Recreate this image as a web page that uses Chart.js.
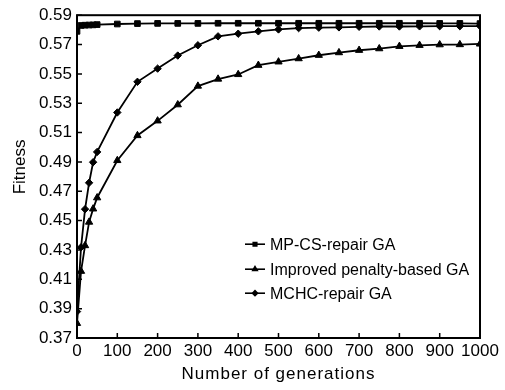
<!DOCTYPE html>
<html>
<head>
<meta charset="utf-8">
<script src="https://cdn.jsdelivr.net/npm/chart.js@4/dist/chart.umd.min.js"></script>
<style>
html,body{margin:0;padding:0;background:#fff;}
#c{display:block;}
</style>
</head>
<body>
<canvas id="c" width="505" height="390"></canvas>
<script>
const generations = [0,10,20,30,40,50,100,150,200,250,300,350,400,450,500,550,600,650,700,750,800,850,900,950,1000];
const mpcsRepair = [0.579,0.5830,0.5832,0.5833,0.5834,0.5836,0.5840,0.5843,0.5844,0.5844,0.5844,0.5845,0.5845,0.5845,0.5845,0.5845,0.5845,0.5845,0.5845,0.5845,0.5845,0.5845,0.5844,0.5844,0.5843];
const improvedPenalty = [0.380,0.4155,0.433,0.449,0.458,0.4656,0.491,0.508,0.518,0.529,0.5417,0.5465,0.5496,0.5559,0.5582,0.5604,0.5627,0.5645,0.5661,0.5672,0.5688,0.5695,0.5699,0.5700,0.5704];
const mchcRepair = [0.388,0.4318,0.4578,0.4758,0.4898,0.4968,0.5237,0.5446,0.5536,0.5625,0.5695,0.5756,0.5774,0.5790,0.5803,0.5812,0.5815,0.5817,0.5821,0.5823,0.5823,0.5824,0.5825,0.5825,0.5826];
const seriesNames = ['MP-CS-repair GA','Improved penalty-based GA','MCHC-repair GA'];
const xTickValues = [0,100,200,300,400,500,600,700,800,900,1000];
const yTickValues = [0.37,0.39,0.41,0.43,0.45,0.47,0.49,0.51,0.53,0.55,0.57,0.59];
const xTitle = 'Number of generations';
const yTitle = 'Fitness';

const FONT = "'Liberation Sans', Arial, sans-serif";
const toPts = arr => arr.map((v,i)=>({x:generations[i], y:v}));

const styles = [
  {pointStyle:'rect', radius:4, legendRadius:2.5},
  {pointStyle:'triangle', radius:4.2, legendRadius:2.6},
  {pointStyle:'rectRot', radius:3.7, legendRadius:2.5}
];
const allSeries = [mpcsRepair, improvedPenalty, mchcRepair];

const datasets = allSeries.map((s,i)=>({
  label: seriesNames[i],
  data: toPts(s),
  borderColor:'#000',
  backgroundColor:'#000',
  borderWidth:1.8,
  pointStyle: styles[i].pointStyle,
  pointRadius: styles[i].radius,
  pointBorderWidth:1,
  pointBackgroundColor:'#000',
  pointBorderColor:'#000',
  tension:0,
  fill:false
}));

const framePlugin = {
  id:'frame',
  afterDraw(chart){
    const {ctx, chartArea:a, scales} = chart;
    ctx.save();
    ctx.strokeStyle='#000';
    // inward ticks
    ctx.lineWidth=1.5;
    ctx.beginPath();
    xTickValues.forEach(v=>{
      const px = scales.x.getPixelForValue(v);
      ctx.moveTo(px, a.bottom); ctx.lineTo(px, a.bottom-5);
    });
    yTickValues.forEach(v=>{
      const py = scales.y.getPixelForValue(v);
      ctx.moveTo(a.left, py); ctx.lineTo(a.left+5, py);
    });
    ctx.stroke();
    // frame
    ctx.lineWidth=2;
    ctx.strokeRect(a.left, a.top, a.right-a.left, a.bottom-a.top);
    // axis titles
    ctx.fillStyle='#000';
    ctx.textAlign='center';
    ctx.textBaseline='middle';
    ctx.font = '17px ' + FONT;
    ctx.letterSpacing = '1px';
    ctx.fillText(xTitle, (a.left+a.right)/2, 374);
    ctx.letterSpacing = '0px';
    ctx.save();
    ctx.translate(20, a.top + (a.bottom-a.top)*0.47);
    ctx.rotate(-Math.PI/2);
    ctx.font = '17px ' + FONT;
    ctx.fillText(yTitle, 0, 0);
    ctx.restore();
    // legend
    const lx = a.left + 168, tx = a.left + 193;
    const rows = [a.top + 229, a.top + 254, a.top + 278];
    ctx.font = '16px ' + FONT;
    ctx.textAlign='left';
    rows.forEach((ry,i)=>{
      ctx.lineWidth=1.6;
      ctx.beginPath();
      ctx.moveTo(lx, ry); ctx.lineTo(lx+20, ry);
      ctx.stroke();
      Chart.helpers.drawPoint(ctx, {pointStyle:styles[i].pointStyle, radius:styles[i].legendRadius, borderWidth:1}, lx+10, ry);
      ctx.fill();
      ctx.fillText(seriesNames[i], tx, ry+1);
    });
    ctx.restore();
  }
};

new Chart(document.getElementById('c'), {
  type:'line',
  data:{datasets},
  options:{
    responsive:false,
    animation:false,
    events:[],
    layout:{padding:{top:13,right:25,left:0,bottom:0}},
    plugins:{legend:{display:false}, tooltip:{enabled:false}},
    scales:{
      x:{
        type:'linear',
        min:0, max:1000,
        grid:{display:false, drawTicks:false},
        border:{display:false},
        afterBuildTicks(scale){ scale.ticks = xTickValues.map(v=>({value:v})); },
        afterFit(scale){ scale.height = 52; },
        ticks:{color:'#000', font:{family:FONT,size:17}, padding:3, maxRotation:0, autoSkip:false,
          callback:(v)=>String(v)},
        title:{display:false}
      },
      y:{
        type:'linear',
        min:0.37, max:0.59,
        grid:{display:false, drawTicks:false},
        border:{display:false},
        afterBuildTicks(scale){ scale.ticks = yTickValues.map(v=>({value:v})); },
        afterFit(scale){ scale.width = 77; },
        ticks:{color:'#000', font:{family:FONT,size:17}, padding:5, autoSkip:false,
          callback:(v)=>Number(v).toFixed(2)},
        title:{display:false}
      }
    }
  },
  plugins:[framePlugin]
});
</script>
</body>
</html>
